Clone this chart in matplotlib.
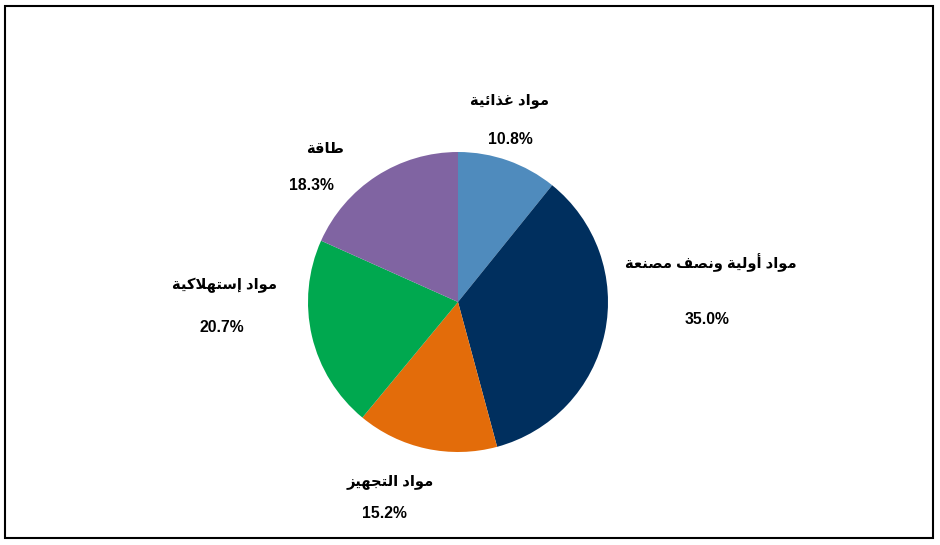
import matplotlib.pyplot as plt
from matplotlib.patches import Rectangle

# data
categories = ['مواد غذائية', 'مواد أولية ونصف مصنعة', 'مواد التجهيز',
              'مواد إستهلاكية', 'طاقة']
shares = [10.8, 35.0, 15.2, 20.7, 18.3]
colors = ['#4f8bbd', '#002f5e', '#e36c0a', '#00a84f', '#8064a2']

# label anchors (pixels from top-left): name, percentage
name_pos = [(510, 101), (711, 263), (390, 482), (224, 285), (325, 149)]
pct_pos = [(510, 140), (707, 320), (384, 513), (222, 327), (311, 185)]

# minimal arabic shaping (matplotlib has no complex text layout)
DUAL = {'ب': 0xFE8F, 'ت': 0xFE95, 'ث': 0xFE99, 'ج': 0xFE9D, 'ح': 0xFEA1,
        'خ': 0xFEA5, 'س': 0xFEB1, 'ش': 0xFEB5, 'ص': 0xFEB9, 'ض': 0xFEBD,
        'ط': 0xFEC1, 'ظ': 0xFEC5, 'ع': 0xFEC9, 'غ': 0xFECD, 'ف': 0xFED1,
        'ق': 0xFED5, 'ك': 0xFED9, 'ل': 0xFEDD, 'م': 0xFEE1, 'ن': 0xFEE5,
        'ه': 0xFEE9, 'ي': 0xFEF1, 'ئ': 0xFE89}
RIGHT = {'ا': 0xFE8D, 'أ': 0xFE83, 'إ': 0xFE87, 'آ': 0xFE81, 'د': 0xFEA9,
         'ذ': 0xFEAB, 'ر': 0xFEAD, 'ز': 0xFEAF, 'و': 0xFEED, 'ة': 0xFE93,
         'ؤ': 0xFE85}
LAMALEF = {'ا': 0xFEFB, 'أ': 0xFEF7, 'إ': 0xFEF9, 'آ': 0xFEF5}


def shape(text):
    items = []
    i = 0
    while i < len(text):
        c = text[i]
        if c == 'ل' and i + 1 < len(text) and text[i + 1] in LAMALEF:
            items.append(('LA', text[i + 1]))
            i += 2
        else:
            items.append(c)
            i += 1

    def joins_next(c):
        return not isinstance(c, tuple) and c in DUAL

    def joins_prev(c):
        return isinstance(c, tuple) or c in DUAL or c in RIGHT

    out = []
    for k, c in enumerate(items):
        prev = k > 0 and joins_next(items[k - 1]) and joins_prev(c)
        nxt = k + 1 < len(items) and joins_next(c) and joins_prev(items[k + 1])
        if isinstance(c, tuple):
            out.append(chr(LAMALEF[c[1]] + (1 if prev else 0)))
        elif c in DUAL:
            form = 3 if (prev and nxt) else 1 if prev else 2 if nxt else 0
            out.append(chr(DUAL[c] + form))
        elif c in RIGHT:
            out.append(chr(RIGHT[c] + (1 if prev else 0)))
        else:
            out.append(c)
    return ''.join(out[::-1])


W, H = 940, 545
fig = plt.figure(figsize=(W / 100, H / 100), dpi=100)
ax = fig.add_axes([0, 0, 1, 1])

ax.pie(shares, colors=colors, startangle=90, counterclock=False,
       radius=150, center=(458, H - 302))
ax.set_xlim(0, W)
ax.set_ylim(0, H)
ax.axis('off')

fam = ['Liberation Sans', 'DejaVu Sans']
for cat, val, (nx, ny), (px, py) in zip(categories, shares, name_pos, pct_pos):
    ax.text(nx, H - ny, shape(cat), ha='center', va='center',
            fontsize=10.6, fontweight='bold', family=fam)
    ax.text(px, H - py, f'{val:.1f}%', ha='center', va='center',
            fontsize=11.3, fontweight='bold', family=fam)

# outer frame
fig.patches.append(Rectangle((5 / W, 7 / H), 928 / W, 532 / H,
                             transform=fig.transFigure, fill=False,
                             edgecolor='black', lw=1.5))

fig.savefig('out.png', dpi=100)
